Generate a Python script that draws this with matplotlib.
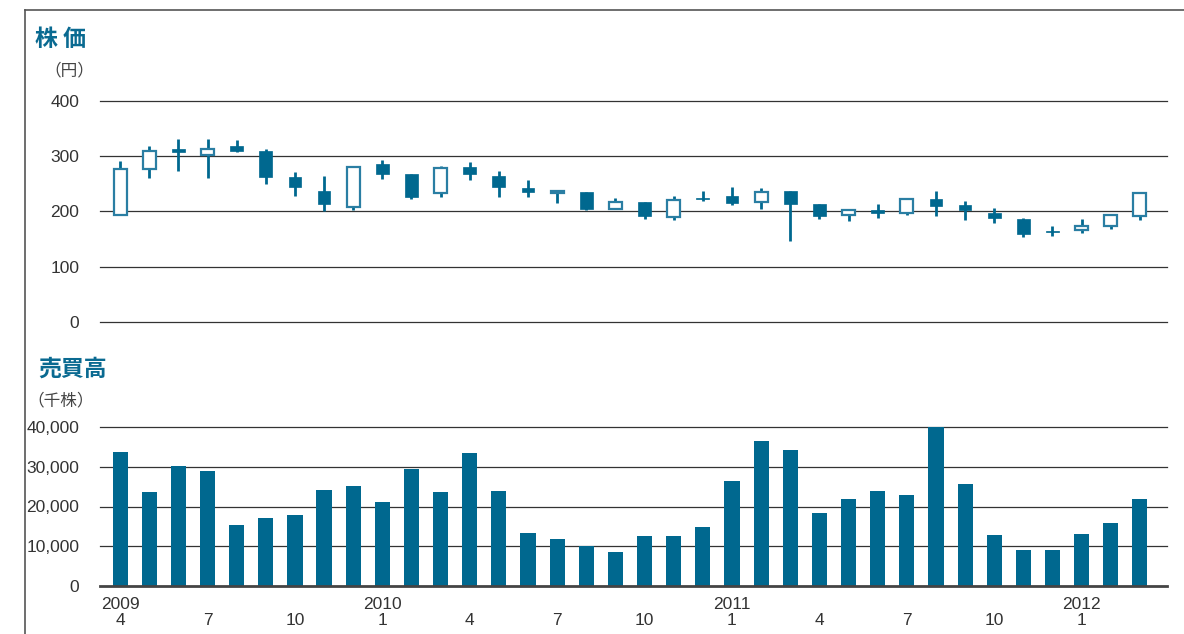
import matplotlib.pyplot as plt
import matplotlib.lines as mlines

# 月次データ 2009/4 - 2012/3
months = [4, 5, 6, 7, 8, 9, 10, 11, 12, 1, 2, 3,
          4, 5, 6, 7, 8, 9, 10, 11, 12, 1, 2, 3,
          4, 5, 6, 7, 8, 9, 10, 11, 12, 1, 2, 3]
years = {0: "2009", 9: "2010", 21: "2011", 33: "2012"}

open_ = [194, 277, 314, 303, 318, 309, 262, 237, 208, 286, 268, 233,
         280, 264, 242, 234, 235, 204, 217, 190, 224, 228, 217, 237,
         213, 193, 202, 198, 222, 211, 197, 186, 165, 166, 173, 192]
close = [277, 310, 308, 313, 310, 263, 245, 214, 280, 268, 227, 279,
         268, 245, 236, 237, 205, 218, 192, 221, 222, 216, 235, 213,
         192, 202, 198, 222, 210, 202, 189, 160, 162, 174, 194, 234]
high = [291, 318, 331, 332, 329, 313, 271, 264, 282, 293, 268, 282,
        289, 273, 257, 237, 235, 224, 217, 228, 237, 244, 242, 237,
        213, 202, 213, 222, 237, 219, 206, 188, 174, 186, 195, 235]
low = [193, 261, 274, 261, 308, 250, 228, 200, 202, 259, 222, 227,
       257, 227, 227, 216, 202, 204, 187, 185, 219, 211, 205, 147,
       187, 183, 188, 194, 192, 184, 180, 154, 155, 161, 168, 185]

volume = [33700, 23600, 30200, 28900, 15300, 17100, 17900, 24200, 25200, 21100, 29400, 23600,
          33500, 23900, 13300, 11800, 10100, 8600, 12600, 12600, 14800, 26400, 36500, 34200,
          18400, 21900, 23900, 22900, 40000, 25700, 12800, 9100, 9100, 13100, 15800, 21900]

blue = '#00688f'
edge = '#2a7ea3'

plt.rcParams['font.family'] = ['Liberation Sans', 'Noto Sans CJK JP']

fig = plt.figure(figsize=(11.84, 6.34), dpi=100)
W, H = 1184, 634

def axes_px(x0, y0, x1, y1):
    return fig.add_axes([x0 / W, 1 - y1 / H, (x1 - x0) / W, (y1 - y0) / H])

ax1 = axes_px(100, 101, 1167, 322)
ax2 = axes_px(100, 427, 1167, 586)

x = list(range(len(months)))
xlim = (-0.69, 35.93)

# 株価 ローソク足
for i in x:
    o, c = open_[i], close[i]
    ax1.vlines(i, low[i], high[i], color=blue, lw=2, zorder=2)
    h = max(abs(c - o), 2)
    b = min(o, c)
    if c >= o:
        ax1.bar(i, h, bottom=b, width=0.44, color='white', edgecolor=edge, lw=1.6, zorder=3)
    else:
        ax1.bar(i, h, bottom=b, width=0.44, color=blue, edgecolor=blue, lw=0.5, zorder=3)

ax1.set_ylim(0, 400)
ax1.set_xlim(*xlim)
ax1.set_yticks([0, 100, 200, 300, 400])
ax1.set_yticklabels(['0', '100', '200', '300', '400'])
for v in [0, 100, 200, 300, 400]:
    ax1.axhline(v, color='#333333', lw=0.9, zorder=1, clip_on=False)
ax1.set_xticks([])

# 売買高
ax2.bar(x, volume, width=0.52, color=blue, zorder=3)
ax2.set_ylim(0, 40000)
ax2.set_xlim(*xlim)
vt = [0, 10000, 20000, 30000, 40000]
ax2.set_yticks(vt)
ax2.set_yticklabels([f"{v:,}" for v in vt])
for v in vt[1:]:
    ax2.axhline(v, color='#333333', lw=0.9, zorder=1, clip_on=False)
ax2.axhline(0, color='#444444', lw=2, zorder=4, clip_on=False)

tick_idx = [i for i in x if months[i] in (1, 4, 7, 10)]
tick_lab = [(years.get(i, "") + "\n" + str(months[i])) for i in tick_idx]
ax2.set_xticks(tick_idx)
ax2.set_xticklabels(tick_lab, linespacing=1.1)

for ax in (ax1, ax2):
    for s in ax.spines.values():
        s.set_visible(False)
    ax.tick_params(length=0, labelsize=12.5, colors='#333333', pad=15)
    ax.patch.set_visible(False)
ax2.tick_params(axis='x', pad=8)

# タイトル類
fig.text(35 / W, 1 - 40 / H, "株 価", fontsize=16.5, fontweight='bold', color='#0a6a91',
         family=['Noto Sans CJK JP'], va='center', ha='left')
fig.text(94 / W, 1 - 71 / H, "（円）", fontsize=12, color='#444444',
         family=['Noto Sans CJK JP'], va='center', ha='right')
fig.text(38 / W, 1 - 369 / H, "売買高", fontsize=16.5, fontweight='bold', color='#0a6a91',
         family=['Noto Sans CJK JP'], va='center', ha='left')
fig.text(94 / W, 1 - 401 / H, "（千株）", fontsize=12, color='#444444',
         family=['Noto Sans CJK JP'], va='center', ha='right')

# 枠線
fig.add_artist(mlines.Line2D([25 / W, 25 / W], [0, 1 - 10 / H], color='#555555', lw=1.2))
fig.add_artist(mlines.Line2D([25 / W, 1], [1 - 10 / H, 1 - 10 / H], color='#555555', lw=1.2))

fig.savefig("out.png", dpi=100)
